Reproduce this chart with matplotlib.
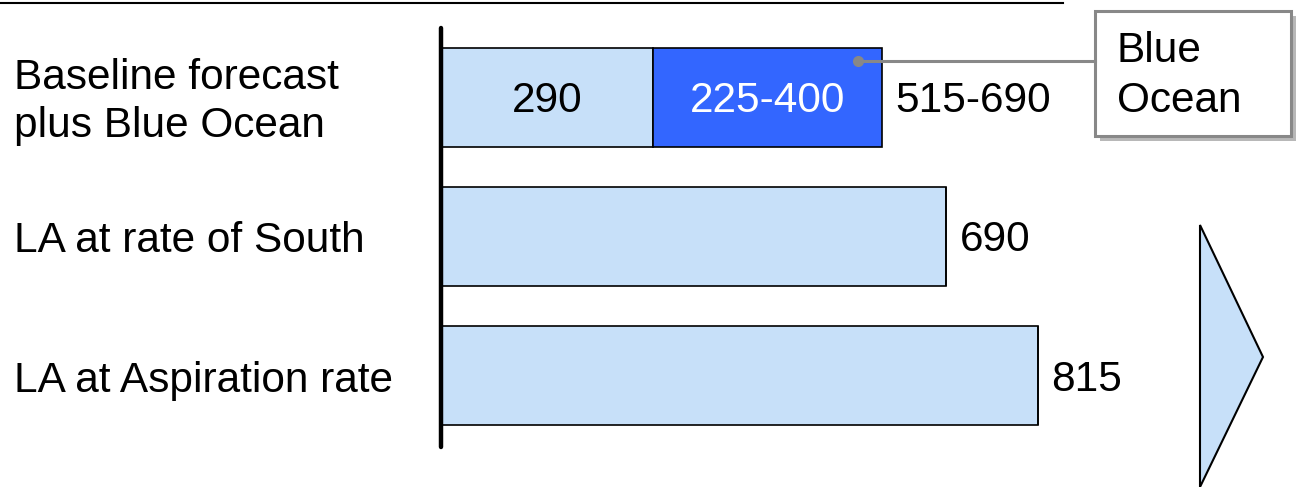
import matplotlib.pyplot as plt
import matplotlib.transforms as mtransforms
from matplotlib.patches import Rectangle, Polygon

# data
categories = ["Baseline forecast\nplus Blue Ocean", "LA at rate of South", "LA at Aspiration rate"]
baseline = [290, 690, 815]
blue_ocean = [312.5, 0, 0]          # midpoint of the 225-400 range
segment_labels = ["290", "225-400"]
total_labels = ["515-690", "690", "815"]

light_blue = "#C7E0F9"
dark_blue = "#3366FF"

plt.rcParams['font.family'] = ['Liberation Sans', 'DejaVu Sans']

W, H = 1307, 487
fig = plt.figure(figsize=(W / 100, H / 100), dpi=100)


def px(x, y):
    return x / W, 1 - y / H


# axes area in pixels: left 441, right 1173, top 28, bottom 447
ax = fig.add_axes([441 / W, 1 - 447 / H, 732.5 / W, (447 - 28) / H])
ax.set_xlim(0, 1000)
ax.set_ylim(2.51, -0.495)
ax.axis("off")
ax.plot([0, 0], [-0.495, 2.51], color="black", lw=3.2, solid_capstyle="round",
        clip_on=False, zorder=5)

ypos = range(len(categories))
ax.barh(ypos, baseline, height=0.71, color=light_blue, edgecolor="black", lw=1.2, zorder=2)
ax.barh(ypos, blue_ocean, left=baseline, height=0.71, color=dark_blue,
        edgecolor="black", lw=1.2, zorder=2)

fs = 30.5
down = mtransforms.offset_copy(ax.transData, fig=fig, x=0, y=-4, units="dots")
ax.text(baseline[0] / 2, 0, segment_labels[0], ha="center", va="center", fontsize=fs,
        transform=down)
ax.text(baseline[0] + blue_ocean[0] / 2, 0, segment_labels[1], ha="center", va="center",
        fontsize=fs, color="white", transform=down)

offset = mtransforms.offset_copy(ax.transData, fig=fig, x=13, y=-4, units="dots")
for i, (b, o) in enumerate(zip(baseline, blue_ocean)):
    ax.text(b + o, i, total_labels[i], ha="left", va="center", fontsize=fs, transform=offset)

# category labels at the left edge of the figure
lab_tr = mtransforms.blended_transform_factory(fig.transFigure, ax.transData)
lab_tr = mtransforms.offset_copy(lab_tr, fig=fig, x=0, y=-5, units="dots")
for i, c in enumerate(categories):
    ax.text(14 / W, i, c, ha="left", va="center", fontsize=fs, transform=lab_tr,
            linespacing=1.28)

# top rule
fig.add_artist(plt.Line2D([0, 1063 / W], [1 - 3 / H] * 2, color="black", lw=1.5))

# callout box with shadow
shadow = Rectangle(px(1100, 141), 196 / W, 125 / H, transform=fig.transFigure,
                   facecolor="#B8B8B8", edgecolor="none")
box = Rectangle(px(1095, 136), 196 / W, 125 / H, transform=fig.transFigure,
                facecolor="white", edgecolor="#888888", lw=2.2)
fig.add_artist(shadow)
fig.add_artist(box)
fig.text(*px(1117, 76), "Blue\nOcean", ha="left", va="center", fontsize=fs,
         linespacing=1.3)

# connector from the Blue Ocean segment to the box
x0, y0 = px(858, 61)
x1, _ = px(1095, 61)
fig.add_artist(plt.Line2D([x0, x1], [y0, y0], color="#888888", lw=2.2))
fig.add_artist(plt.Line2D([x0], [y0], marker="o", color="#888888", markersize=7))

# arrow triangle on the right
tri = Polygon([px(1200, 225), px(1263, 357), px(1200, 487)], closed=True,
              transform=fig.transFigure, facecolor=light_blue, edgecolor="black", lw=1.5)
fig.add_artist(tri)

fig.savefig("out.png", dpi=100)
